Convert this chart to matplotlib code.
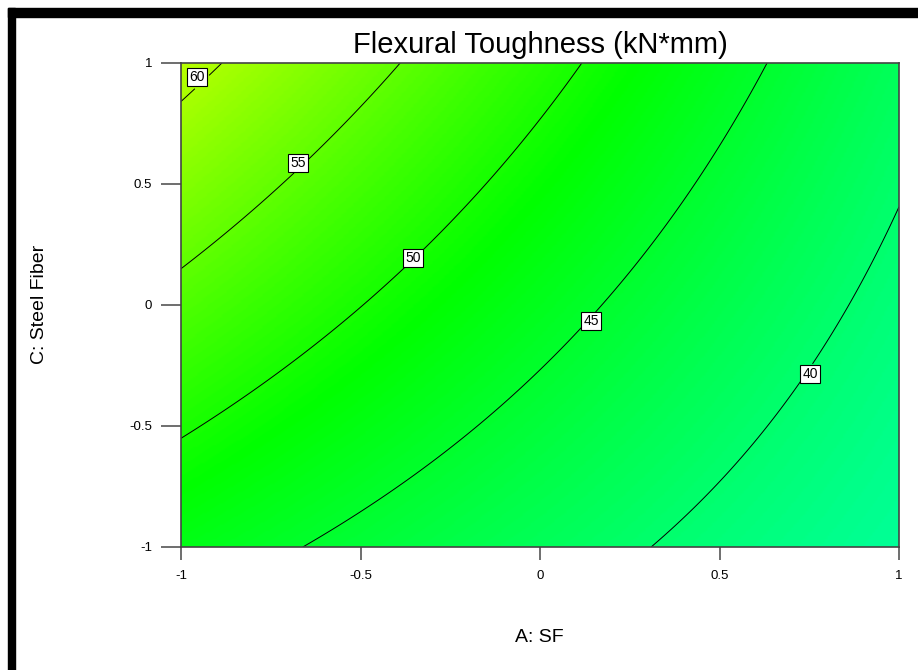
import matplotlib
matplotlib.use('Agg')
import matplotlib.pyplot as plt
import numpy as np
from matplotlib.colors import LinearSegmentedColormap, Normalize
from matplotlib.patches import Rectangle

plt.rcParams['font.family'] = ['Liberation Sans', 'DejaVu Sans']

# contour levels and the (A, C) points each one passes through
LEVELS = [40, 45, 50, 55, 60]
pt_level = [60, 60,
            55, 55, 55,
            50, 50, 50,
            45, 45, 45,
            40, 40, 40]
pt_a = [-1.0, -0.886,
        -1.0, -0.382, -0.674,
        -1.0, 0.120, -0.354,
        -0.646, 0.627, 0.142,
        0.290, 1.0, 0.752]
pt_c = [0.835, 1.0,
        0.145, 1.0, 0.587,
        -0.545, 1.0, 0.194,
        -1.0, 1.0, -0.066,
        -1.0, 0.413, -0.285]

# where the level labels sit
label_pos = [(0.752, -0.285), (0.142, -0.066), (-0.354, 0.194),
             (-0.674, 0.587), (-0.955, 0.942)]

# response values at the colour ramp stops
ramp_vals = [8.5, 28.5, 48.5, 66.0, 84.0]
ramp_cols = ['#0000ff', '#00ffff', '#00ff00', '#ffff00', '#ff0000']


def fit_surface(a, c, y):
    """ Quadratic response surface through the contour points. """
    a, c, y = map(np.asarray, (a, c, y))
    X = np.column_stack([np.ones_like(a), a, c, a * c, a ** 2, c ** 2])
    coef, *_ = np.linalg.lstsq(X, y, rcond=None)
    return coef


def eval_surface(coef, A, C):
    return (coef[0] + coef[1] * A + coef[2] * C + coef[3] * A * C
            + coef[4] * A ** 2 + coef[5] * C ** 2)


coef = fit_surface(pt_a, pt_c, pt_level)
g = np.linspace(-1, 1, 300)
A, C = np.meshgrid(g, g)
Z = eval_surface(coef, A, C)

lo, hi = ramp_vals[0], ramp_vals[-1]
stops = [(v - lo) / (hi - lo) for v in ramp_vals]
ramp = LinearSegmentedColormap.from_list('ramp', list(zip(stops, ramp_cols)))
norm = Normalize(vmin=lo, vmax=hi)

fig = plt.figure(figsize=(9.18, 6.70), dpi=100)
ax = fig.add_axes([0.1972, 0.1836, 0.7821, 0.7224])

ax.imshow(Z, extent=(-1, 1, -1, 1), origin='lower', cmap=ramp, norm=norm,
          aspect='auto', interpolation='bilinear')
cs = ax.contour(A, C, Z, levels=LEVELS, colors='black', linewidths=0.7)
labels = ax.clabel(cs, fmt='%d', fontsize=10, manual=label_pos, inline=True,
                   inline_spacing=2)
for t, pos in zip(labels, label_pos):
    t.set_rotation(0)
    t.set_position(pos)
    t.set_bbox(dict(facecolor='white', edgecolor='black', pad=1.6,
                    linewidth=0.8))

ax.set_xlim(-1, 1)
ax.set_ylim(-1, 1)
ax.set_xticks([-1, -0.5, 0, 0.5, 1])
ax.set_yticks([-1, -0.5, 0, 0.5, 1])
ax.set_xticklabels(['-1', '-0.5', '0', '0.5', '1'])
ax.set_yticklabels(['-1', '-0.5', '0', '0.5', '1'])
ax.tick_params(axis='x', length=9.4, width=1.2, color='#555555',
               labelsize=9.5, pad=7)
ax.tick_params(axis='y', length=14.4, width=1.2, color='#555555',
               labelsize=9.5, pad=6.5)
for s in ax.spines.values():
    s.set_color('#444444')
    s.set_linewidth(1.2)

ax.set_title('Flexural Toughness (kN*mm)', fontsize=21, pad=7)
fig.text(0.588, 0.049, 'A: SF', ha='center', va='center', fontsize=14)
fig.text(0.043, 0.545, 'C: Steel Fiber', ha='center', va='center',
         fontsize=14, rotation=90)

# black window frame
fig.patches.append(Rectangle((8 / 918, 1 - 17 / 670), 1, 9 / 670,
                             transform=fig.transFigure, color='black'))
fig.patches.append(Rectangle((8 / 918, -0.1), 7 / 918, 1.1 - 8 / 670,
                             transform=fig.transFigure, color='black'))

fig.savefig('out.png', dpi=100)
